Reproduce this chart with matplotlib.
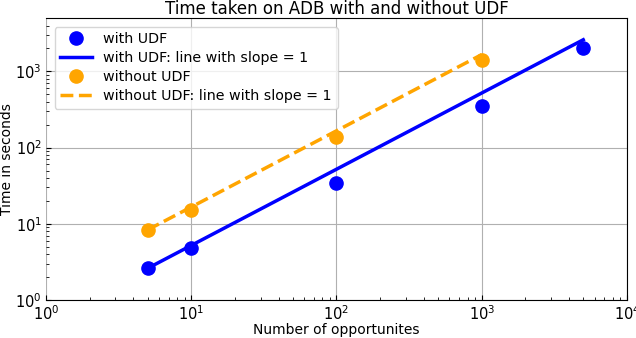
import matplotlib
matplotlib.use("Agg")
import matplotlib.pyplot as plt

# Aantal opportunities en gemeten tijden (seconden)
x_with = [5, 10, 100, 1000, 5000]
t_with = [2.6, 4.8, 34, 350, 2000]

x_without = [5, 10, 100, 1000]
t_without = [8.3, 15.2, 139, 1390]

# lijnen met helling 1 door het eerste punt
fit_with = [t_with[0] * x / x_with[0] for x in x_with]
fit_without = [t_without[0] * x / x_without[0] for x in x_without]

fig = plt.figure(figsize=(6.36, 3.38), dpi=100)
ax = fig.add_axes([0.0723, 0.1124, 0.9135, 0.834])

ax.plot(x_with, t_with, "o", color="blue", markersize=9.5, label="with UDF")
ax.plot(x_with, fit_with, "-", color="blue", linewidth=2.5,
        label="with UDF: line with slope = 1")
ax.plot(x_without, t_without, "o", color="orange", markersize=9.5, label="without UDF")
ax.plot(x_without, fit_without, "--", color="orange", linewidth=2.5,
        label="without UDF: line with slope = 1")

ax.set_xscale("log")
ax.set_yscale("log")
ax.set_xlim(1, 1e4)
ax.set_ylim(1, 5000)
ax.grid(True, which="major", color="#b0b0b0")
ax.spines["left"].set_visible(False)
ax.tick_params(which="both", direction="in", labelsize=10.5, pad=3)
ax.set_title("Time taken on ADB with and without UDF", fontsize=12, pad=3)
ax.set_xlabel("Number of opportunites", fontsize=10, labelpad=0)
ax.set_ylabel("Time in seconds", fontsize=10, labelpad=1)
ax.legend(loc="upper left", fontsize=10.3, borderaxespad=0.6,
          labelspacing=0.35, handlelength=2.2)

fig.savefig("out.png", dpi=100)
